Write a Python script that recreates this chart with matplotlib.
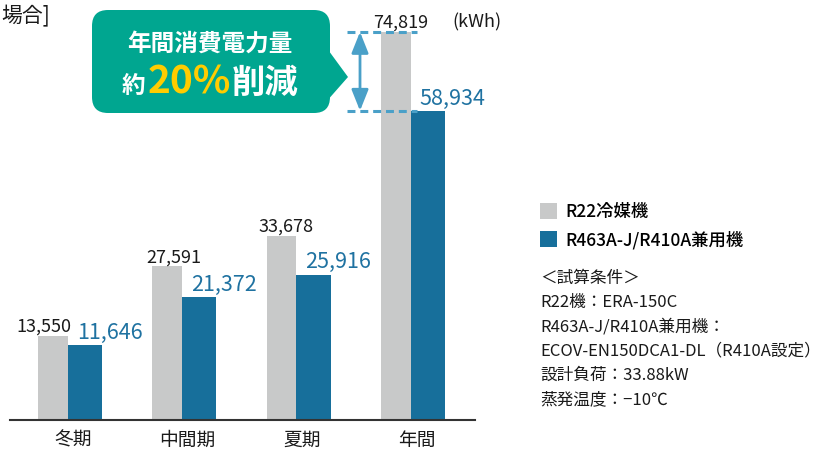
import matplotlib.pyplot as plt
import numpy as np
from matplotlib.patches import FancyBboxPatch, Polygon

plt.rcParams["font.family"] = ["Noto Sans CJK JP", "DejaVu Sans"]

categories = ["冬期", "中間期", "夏期", "年間"]
r22_kwh = [13550, 27591, 33678, 74819]
r463_kwh = [11646, 21372, 25916, 58934]
series_names = ["R22冷媒機", "R463A-J/R410A兼用機"]
conditions = [
    "＜試算条件＞",
    "R22機：ERA-150C",
    "R463A-J/R410A兼用機：",
    "ECOV-EN150DCA1-DL（R410A設定）",
    "設計負荷：33.88kW",
    "蒸発温度：−10℃",
]

GRAY = "#c8c9c9"
BLUE = "#176f9b"
BLUE_TXT = "#1f72a1"
TEAL = "#00a690"
YELLOW = "#ffcc00"
DASH = "#4aa0c8"
INK = "#1a1a1a"

fig = plt.figure(figsize=(8.22, 4.5), dpi=100)
ax = fig.add_axes([10 / 822, 30 / 450, 465 / 822, 410 / 450])

y0 = -3386
x = np.arange(len(categories))
gw, bw = 0.26, 0.30
r22 = np.array(r22_kwh)
r463 = np.array(r463_kwh)
bars_a = ax.bar(x, r22 - y0, bottom=y0, width=gw, align="edge", color=GRAY, label=series_names[0])
bars_b = ax.bar(x + gw, r463 - y0, bottom=y0, width=bw, align="edge", color=BLUE, label=series_names[1])

ax.set_xlim(-0.245, 3.823)
ax.set_ylim(y0, 79242)
for s in ("left", "right", "top"):
    ax.spines[s].set_visible(False)
ax.spines["bottom"].set_color("#333333")
ax.spines["bottom"].set_linewidth(1.5)
ax.set_yticks([])
ax.set_xticks(x + (gw + bw) / 2 + 0.03)
ax.set_xticklabels(categories, fontsize=13.5, color=INK)
ax.tick_params(axis="x", length=0, pad=7)

# value labels: grey above its bar, blue to the upper right
gray_dx = [-6.5, 4.5, 3.5, 3.5]
for i, v in enumerate(r22_kwh):
    ax.annotate(f"{v:,}", xy=(x[i] + gw / 2, v), xytext=(gray_dx[i], 3),
                textcoords="offset points", ha="center", va="baseline",
                fontsize=13, color=INK)
for i, v in enumerate(r463_kwh):
    ax.annotate(f"{v:,}", xy=(x[i] + gw, v), xytext=(6.5, 4.5),
                textcoords="offset points", ha="left", va="baseline",
                fontsize=15.5, color=BLUE_TXT)

# reduction marker on the annual pair
ax.hlines([r22_kwh[3], r463_kwh[3]], 2.703, 3.316, colors=DASH,
          linewidth=2.2, linestyles=(0, (2.6, 1.6)), zorder=4)
ax.annotate("", xy=(2.817, r463_kwh[3]), xytext=(2.817, r22_kwh[3]),
            arrowprops=dict(arrowstyle="<|-|>,head_length=0.8,head_width=0.32",
                            color=DASH, lw=2, shrinkA=0, shrinkB=0,
                            mutation_scale=16), zorder=4)

# overlay in pixel units for the callout and side notes
ov = fig.add_axes([0, 0, 1, 1], zorder=5)
ov.set_xlim(0, 822)
ov.set_ylim(450, 0)
ov.axis("off")
ov.patch.set_alpha(0)

ov.add_patch(FancyBboxPatch((92, 10), 238, 103,
                            boxstyle="round,pad=0,rounding_size=16",
                            fc=TEAL, ec="none"))
ov.add_patch(Polygon([(326, 47), (348, 77), (326, 102)], closed=True, fc=TEAL, ec="none"))
ov.text(210, 44, "年間消費電力量", ha="center", va="center", fontsize=17,
        fontweight="bold", color="white")
ov.text(122, 93, "約", ha="left", va="baseline", fontsize=17, fontweight="bold", color="white")
ov.text(148, 93, "20%", ha="left", va="baseline", fontsize=28, fontweight="bold", color=YELLOW)
ov.text(232, 93, "削減", ha="left", va="baseline", fontsize=24, fontweight="bold", color="white")

ov.text(1, 16, "場合]", ha="left", va="center", fontsize=15, color=INK)
ov.text(452, 27, "(kWh)", ha="left", va="baseline", fontsize=13, color=INK)

fig.legend(handles=[bars_a, bars_b], labels=series_names, loc="upper left",
           bbox_to_anchor=(540 / 822, 1 - 203 / 450), frameon=False,
           borderpad=0, borderaxespad=0, handlelength=1.0, handleheight=1.0,
           handletextpad=0.45, labelspacing=0.55,
           prop={"size": 12.5, "weight": "medium"})

for i, line in enumerate(conditions):
    ov.text(540, 278 + i * 24.4, line, ha="left", va="center", fontsize=12, color=INK)

fig.savefig("out.png", dpi=100)
